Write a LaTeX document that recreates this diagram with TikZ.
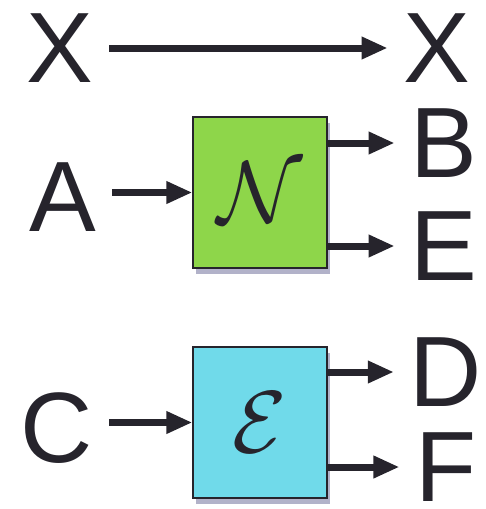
\documentclass[tikz,border=0pt]{standalone}
\usepackage{fix-cm}
\usepackage{fontspec}
\setmainfont{Liberation Sans}
\usepackage{xcolor}
\usetikzlibrary{arrows.meta, positioning, shadows}

\definecolor{chgreen}{RGB}{142,214,74}
\definecolor{chcyan}{RGB}{112,218,234}
\definecolor{ink}{RGB}{38,36,44}

\begin{document}
\begin{tikzpicture}[
    x=1pt, y=-1pt,
    sym/.style={inner sep=0pt, outer sep=16pt, text=ink,
                font=\fontsize{100}{100}\selectfont},
    chan/.style={draw=ink, line width=1.2pt, minimum width=134pt,
                 minimum height=151pt, inner sep=0pt, text=ink,
                 font=\fontsize{88}{88}\selectfont,
                 drop shadow={shadow xshift=3pt, shadow yshift=-6pt,
                              fill=black!70!blue, opacity=0.3}},
    link/.style={line width=7pt, draw=ink,
                 -{Triangle[length=26pt, width=21pt]}}
]
\useasboundingbox (0,0) rectangle (485,509);

% identity wire
\node[sym] (xin)  at (60,48)  {X};
\node[sym] (xout) at (437,48) {X};
\draw[link] (xin) -- (xout);

% noisy channel
\node[chan, fill=chgreen] (noise) at (260,192.5) {$\mathcal{N}$};
\node[sym] (a) at (63,197)  {A};
\node[sym] (b) at (444,143) {B};
\node[sym] (e) at (444,246) {E};
\draw[link] (a.east |- noise) -- (noise.west);
\draw[link] (noise.east |- b) -- (b.west);
\draw[link] (noise.east |- e) -- (e.west);

% encoder
\node[chan, fill=chcyan] (enc) at (260,422.5) {$\mathcal{E}$};
\node[sym] (c) at (57,428)  {C};
\node[sym] (d) at (446,372) {D};
\node[sym] (f) at (446,467) {F};
\draw[link] (c.east |- enc) -- (enc.west);
\draw[link] (enc.east |- d) -- (d.west);
\draw[link] (enc.east |- f) -- (f.west);
\end{tikzpicture}
\end{document}
